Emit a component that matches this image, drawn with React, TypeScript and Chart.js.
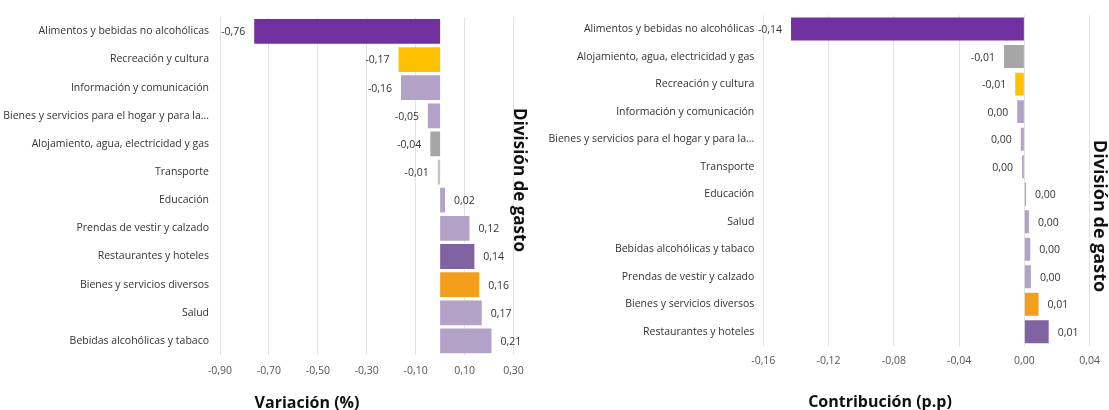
import React, { useEffect, useRef } from 'react';
import { Chart, registerables } from 'chart.js';

Chart.register(...registerables);

// ---------- Data ----------
const varCategories = [
  'Alimentos y bebidas no alcohólicas',
  'Recreación y cultura',
  'Información y comunicación',
  'Bienes y servicios para el hogar y para la...',
  'Alojamiento, agua, electricidad y gas',
  'Transporte',
  'Educación',
  'Prendas de vestir y calzado',
  'Restaurantes y hoteles',
  'Bienes y servicios diversos',
  'Salud',
  'Bebidas alcohólicas y tabaco',
];
const varValues = [-0.76, -0.17, -0.16, -0.05, -0.04, -0.01, 0.02, 0.12, 0.14, 0.16, 0.17, 0.21];
const varTicks = { min: -0.9, max: 0.3, step: 0.2 };

const conCategories = [
  'Alimentos y bebidas no alcohólicas',
  'Alojamiento, agua, electricidad y gas',
  'Recreación y cultura',
  'Información y comunicación',
  'Bienes y servicios para el hogar y para la...',
  'Transporte',
  'Educación',
  'Salud',
  'Bebidas alcohólicas y tabaco',
  'Prendas de vestir y calzado',
  'Bienes y servicios diversos',
  'Restaurantes y hoteles',
];
const conValues = [-0.143, -0.0125, -0.0056, -0.0044, -0.0022, -0.0014, 0.001, 0.0028, 0.0036, 0.004, 0.0087, 0.0149];
const conTicks = { min: -0.16, max: 0.04, step: 0.04 };

// ---------- Styles ----------
const PURPLE = '#7030A0';
const YELLOW = '#FFC000';
const LAVENDER = '#B3A2C7';
const GREY = '#A6A6A6';
const LIGHTGREY = '#C4C4C4';
const MAUVE = '#8064A2';
const ORANGE = '#F49F1C';

const varColors = [PURPLE, YELLOW, LAVENDER, LAVENDER, GREY, LIGHTGREY, LAVENDER, LAVENDER, MAUVE, ORANGE, LAVENDER, LAVENDER];
const conColors = [PURPLE, GREY, YELLOW, LAVENDER, LAVENDER, LAVENDER, LAVENDER, LAVENDER, LAVENDER, LAVENDER, ORANGE, MAUVE];

const FONT = "'Open Sans', 'Noto Sans', sans-serif";
const SMALL = 10.5;

function fmt(v: number): string {
  let r = Math.round(v * 100) / 100;
  if (Math.abs(r) < 0.005) r = 0;
  return r.toFixed(2).replace('.', ',');
}

interface ChartSpec {
  categories: string[];
  values: number[];
  colors: string[];
  ticks: { min: number; max: number; step: number };
  yAxisWidth: number;
  padRight: number;
  xAxisHeight: number;
  barPct: number;
  xTitle: string;
  xTitlePos: [number, number];
  yTitle: string;
  yTitlePos: [number, number];
  yTitleSize: number;
  yTickPad: number;
  xTickPad: number;
}

function makeChart(canvas: HTMLCanvasElement, s: ChartSpec) {
  const overlay = {
    id: 'overlay',
    afterDatasetsDraw(chart: any) {
      const ctx = chart.ctx as CanvasRenderingContext2D;
      const meta = chart.getDatasetMeta(0);
      ctx.save();
      ctx.font = `${SMALL}px ${FONT}`;
      ctx.fillStyle = '#333333';
      ctx.textBaseline = 'middle';
      meta.data.forEach((el: any, i: number) => {
        const v = s.values[i];
        const txt = fmt(v);
        if (v < 0) {
          ctx.textAlign = 'right';
          ctx.fillText(txt, el.x - 9, el.y + 1);
        } else {
          ctx.textAlign = 'left';
          ctx.fillText(txt, el.x + 9, el.y + 1);
        }
      });
      ctx.restore();
    },
    afterDraw(chart: any) {
      const ctx = chart.ctx as CanvasRenderingContext2D;
      ctx.save();
      ctx.fillStyle = '#111111';
      ctx.font = `bold 16px ${FONT}`;
      ctx.textAlign = 'center';
      ctx.textBaseline = 'middle';
      ctx.fillText(s.xTitle, s.xTitlePos[0], s.xTitlePos[1]);
      ctx.font = `bold ${s.yTitleSize}px ${FONT}`;
      ctx.translate(s.yTitlePos[0], s.yTitlePos[1]);
      ctx.rotate(Math.PI / 2);
      ctx.fillText(s.yTitle, 0, 0);
      ctx.restore();
    },
  };

  return new Chart(canvas, {
    type: 'bar',
    data: {
      labels: s.categories,
      datasets: [
        {
          data: s.values,
          backgroundColor: s.colors,
          borderWidth: 0,
          barPercentage: s.barPct,
          categoryPercentage: 1,
        },
      ],
    },
    options: {
      indexAxis: 'y',
      responsive: false,
      animation: false,
      layout: { padding: { top: 15, right: s.padRight, left: 0, bottom: 0 } },
      plugins: { legend: { display: false }, tooltip: { enabled: false } },
      scales: {
        x: {
          min: s.ticks.min,
          max: s.ticks.max,
          ticks: {
            stepSize: s.ticks.step,
            callback: (v: any) => fmt(Number(v)),
            font: { size: SMALL, family: FONT },
            color: '#555555',
            padding: s.xTickPad,
            maxRotation: 0,
            autoSkip: false,
          },
          grid: { color: '#E2E2E2', drawTicks: false, lineWidth: 1 },
          border: { display: false },
          afterFit: (sc: any) => {
            sc.height = s.xAxisHeight;
          },
        },
        y: {
          ticks: {
            font: { size: SMALL, family: FONT },
            color: '#333333',
            padding: s.yTickPad,
            autoSkip: false,
          },
          grid: { display: false, drawTicks: false },
          border: { display: false },
          afterFit: (sc: any) => {
            sc.width = s.yAxisWidth;
          },
        },
      },
    } as any,
    plugins: [overlay],
  });
}

const LEFT_W = 545;
const RIGHT_W = 1109 - LEFT_W;

export default function App() {
  const leftRef = useRef<HTMLCanvasElement>(null);
  const rightRef = useRef<HTMLCanvasElement>(null);

  useEffect(() => {
    const c1 = makeChart(leftRef.current!, {
      categories: varCategories,
      values: varValues,
      colors: varColors,
      ticks: varTicks,
      yAxisWidth: 220,
      padRight: LEFT_W - 513.5,
      xAxisHeight: 55,
      barPct: 0.88,
      xTitle: 'Variación (%)',
      xTitlePos: [307, 403],
      yTitle: 'División de gasto',
      yTitlePos: [519, 180],
      yTitleSize: 17,
      yTickPad: 11,
      xTickPad: 10,
    });
    const c2 = makeChart(rightRef.current!, {
      categories: conCategories,
      values: conValues,
      colors: conColors,
      ticks: conTicks,
      yAxisWidth: 218.3,
      padRight: RIGHT_W - 549,
      xAxisHeight: 64.4,
      barPct: 0.833,
      xTitle: 'Contribución (p.p)',
      xTitlePos: [880 - LEFT_W, 402],
      yTitle: 'División de gasto',
      yTitlePos: [1099 - LEFT_W, 216],
      yTitleSize: 18,
      yTickPad: 9,
      xTickPad: 9,
    });
    return () => {
      c1.destroy();
      c2.destroy();
    };
  }, []);

  return (
    <div style={{ position: 'absolute', left: 0, top: 0, width: 1109, height: 410, background: '#ffffff' }}>
      <canvas
        ref={leftRef}
        width={LEFT_W}
        height={410}
        style={{ position: 'absolute', left: 0, top: 0, width: LEFT_W, height: 410 }}
      />
      <canvas
        ref={rightRef}
        width={RIGHT_W}
        height={410}
        style={{ position: 'absolute', left: LEFT_W, top: 0, width: RIGHT_W, height: 410 }}
      />
    </div>
  );
}
